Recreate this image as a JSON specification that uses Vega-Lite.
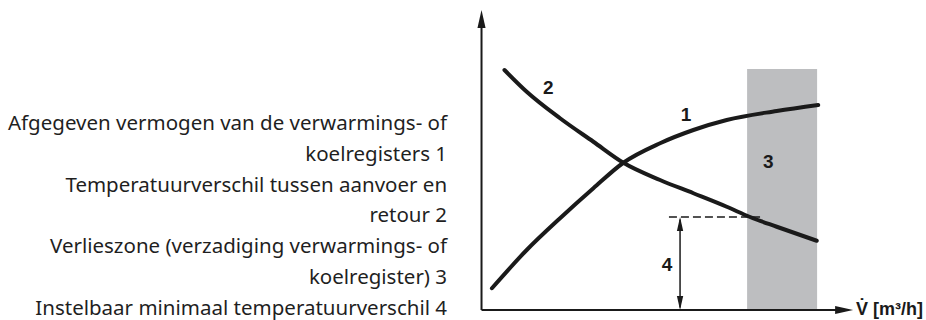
{
  "$schema": "https://vega.github.io/schema/vega-lite/v6.json",
  "width": 926,
  "height": 320,
  "padding": 0,
  "autosize": {"type": "none"},
  "background": "white",
  "config": {"view": {"stroke": null}},
  "datasets": {
    "curves": [
      {"curve": "1", "v": 0.28, "p": 0.87},
      {"curve": "1", "v": 1.22, "p": 2.4},
      {"curve": "1", "v": 2.12, "p": 3.67},
      {"curve": "1", "v": 3.02, "p": 4.87},
      {"curve": "1", "v": 3.83, "p": 5.89},
      {"curve": "1", "v": 4.82, "p": 6.67},
      {"curve": "1", "v": 5.72, "p": 7.2},
      {"curve": "1", "v": 6.62, "p": 7.6},
      {"curve": "1", "v": 7.97, "p": 7.96},
      {"curve": "1", "v": 9.09, "p": 8.2},
      {"curve": "2", "v": 0.62, "p": 9.6},
      {"curve": "2", "v": 1.22, "p": 8.73},
      {"curve": "2", "v": 2.12, "p": 7.67},
      {"curve": "2", "v": 3.02, "p": 6.73},
      {"curve": "2", "v": 3.83, "p": 5.89},
      {"curve": "2", "v": 4.82, "p": 5.2},
      {"curve": "2", "v": 5.72, "p": 4.67},
      {"curve": "2", "v": 6.62, "p": 4.13},
      {"curve": "2", "v": 7.25, "p": 3.72},
      {"curve": "2", "v": 7.97, "p": 3.33},
      {"curve": "2", "v": 9.05, "p": 2.77}
    ],
    "zone": [{"v": 7.17, "v2": 9.06, "p": 0, "p2": 9.64}],
    "axes": [
      {"v": 0, "p": 0, "v2": 9.6, "p2": 0},
      {"v": 0, "p": 0, "v2": 0, "p2": 11.5}
    ],
    "axisHeads": [
      {"v": 9.79, "p": 0, "dir": "right"},
      {"v": 0, "p": 11.64, "dir": "up"}
    ],
    "minDiff": [{"v": 5.36, "p": 0.1, "v2": 5.36, "p2": 3.62}],
    "minDiffHeads": [
      {"v": 5.36, "p": 3.44, "dir": "up"},
      {"v": 5.36, "p": 0.28, "dir": "down"}
    ],
    "guide": [{"v": 5.06, "p": 3.72, "v2": 7.52, "p2": 3.72}],
    "numbers": [
      {"v": 5.52, "p": 7.8, "label": "1"},
      {"v": 1.8, "p": 8.88, "label": "2"},
      {"v": 7.74, "p": 5.92, "label": "3"},
      {"v": 5.01, "p": 1.8, "label": "4"}
    ],
    "flowTitle": [{"v": 10.11, "p": 0, "label": "V̇ [m³/h]"}],
    "legend": [
      {"v": -0.93, "p": 7.2, "label": "Afgegeven vermogen van de verwarmings- of\nkoelregisters 1"},
      {"v": -0.93, "p": 4.74, "label": "Temperatuurverschil tussen aanvoer en\nretour 2"},
      {"v": -0.93, "p": 2.28, "label": "Verlieszone (verzadiging verwarmings- of\nkoelregister) 3"},
      {"v": -0.93, "p": -0.18, "label": "Instelbaar minimaal temperatuurverschil 4"}
    ]
  },
  "layer": [
    {
      "data": {"name": "zone"},
      "mark": {"type": "rect", "color": "#bdbec0"},
      "encoding": {
        "x": {"field": "v", "type": "quantitative", "scale": {"domain": [-13, 12], "nice": false, "zero": false}, "axis": null},
        "x2": {"field": "v2"},
        "y": {"field": "p", "type": "quantitative", "scale": {"domain": [-0.4, 12.4], "nice": false, "zero": false}, "axis": null},
        "y2": {"field": "p2"}
      }
    },
    {
      "data": {"name": "axes"},
      "mark": {"type": "rule", "color": "#1a1a1a", "strokeWidth": 2},
      "encoding": {
        "x": {"field": "v", "type": "quantitative", "scale": {"domain": [-13, 12], "nice": false, "zero": false}, "axis": null},
        "x2": {"field": "v2"},
        "y": {"field": "p", "type": "quantitative", "scale": {"domain": [-0.4, 12.4], "nice": false, "zero": false}, "axis": null},
        "y2": {"field": "p2"}
      }
    },
    {
      "data": {"name": "axisHeads"},
      "mark": {"type": "point", "filled": true, "color": "#1a1a1a", "opacity": 1, "size": 324, "strokeWidth": 0},
      "encoding": {
        "x": {"field": "v", "type": "quantitative", "scale": {"domain": [-13, 12], "nice": false, "zero": false}, "axis": null},
        "y": {"field": "p", "type": "quantitative", "scale": {"domain": [-0.4, 12.4], "nice": false, "zero": false}, "axis": null},
        "shape": {
          "field": "dir",
          "type": "nominal",
          "scale": {"domain": ["right", "up", "down"], "range": ["M-1,-0.45L1,0L-1,0.45Z", "M-0.45,1L0,-1L0.45,1Z", "M-0.45,-1L0,1L0.45,-1Z"]},
          "legend": null
        }
      }
    },
    {
      "data": {"name": "guide"},
      "mark": {"type": "rule", "color": "#1a1a1a", "strokeWidth": 1.5, "strokeDash": [8, 4]},
      "encoding": {
        "x": {"field": "v", "type": "quantitative", "scale": {"domain": [-13, 12], "nice": false, "zero": false}, "axis": null},
        "x2": {"field": "v2"},
        "y": {"field": "p", "type": "quantitative", "scale": {"domain": [-0.4, 12.4], "nice": false, "zero": false}, "axis": null},
        "y2": {"field": "p2"}
      }
    },
    {
      "data": {"name": "minDiff"},
      "mark": {"type": "rule", "color": "#1a1a1a", "strokeWidth": 1.5},
      "encoding": {
        "x": {"field": "v", "type": "quantitative", "scale": {"domain": [-13, 12], "nice": false, "zero": false}, "axis": null},
        "x2": {"field": "v2"},
        "y": {"field": "p", "type": "quantitative", "scale": {"domain": [-0.4, 12.4], "nice": false, "zero": false}, "axis": null},
        "y2": {"field": "p2"}
      }
    },
    {
      "data": {"name": "minDiffHeads"},
      "mark": {"type": "point", "filled": true, "color": "#1a1a1a", "opacity": 1, "size": 196, "strokeWidth": 0},
      "encoding": {
        "x": {"field": "v", "type": "quantitative", "scale": {"domain": [-13, 12], "nice": false, "zero": false}, "axis": null},
        "y": {"field": "p", "type": "quantitative", "scale": {"domain": [-0.4, 12.4], "nice": false, "zero": false}, "axis": null},
        "shape": {
          "field": "dir",
          "type": "nominal",
          "scale": {"domain": ["right", "up", "down"], "range": ["M-1,-0.45L1,0L-1,0.45Z", "M-0.45,1L0,-1L0.45,1Z", "M-0.45,-1L0,1L0.45,-1Z"]},
          "legend": null
        }
      }
    },
    {
      "data": {"name": "curves"},
      "mark": {"type": "line", "color": "#1a1a1a", "strokeWidth": 4, "strokeCap": "round", "interpolate": "monotone"},
      "encoding": {
        "x": {"field": "v", "type": "quantitative", "scale": {"domain": [-13, 12], "nice": false, "zero": false}, "axis": null},
        "y": {"field": "p", "type": "quantitative", "scale": {"domain": [-0.4, 12.4], "nice": false, "zero": false}, "axis": null},
        "detail": {"field": "curve", "type": "nominal"}
      }
    },
    {
      "data": {"name": "numbers"},
      "mark": {"type": "text", "font": "Liberation Sans", "fontWeight": "bold", "fontSize": 19, "color": "#1a1a1a", "align": "center", "baseline": "middle"},
      "encoding": {
        "x": {"field": "v", "type": "quantitative", "scale": {"domain": [-13, 12], "nice": false, "zero": false}, "axis": null},
        "y": {"field": "p", "type": "quantitative", "scale": {"domain": [-0.4, 12.4], "nice": false, "zero": false}, "axis": null},
        "text": {"field": "label"}
      }
    },
    {
      "data": {"name": "flowTitle"},
      "mark": {"type": "text", "font": "Liberation Sans", "fontWeight": "bold", "fontSize": 18, "color": "#1a1a1a", "align": "left", "baseline": "middle"},
      "encoding": {
        "x": {"field": "v", "type": "quantitative", "scale": {"domain": [-13, 12], "nice": false, "zero": false}, "axis": null},
        "y": {"field": "p", "type": "quantitative", "scale": {"domain": [-0.4, 12.4], "nice": false, "zero": false}, "axis": null},
        "text": {"field": "label"}
      }
    },
    {
      "data": {"name": "legend"},
      "mark": {"type": "text", "font": "Noto Sans", "fontSize": 20.5, "color": "#1f1f1f", "align": "right", "baseline": "alphabetic", "lineBreak": "\n", "lineHeight": 30.75},
      "encoding": {
        "x": {"field": "v", "type": "quantitative", "scale": {"domain": [-13, 12], "nice": false, "zero": false}, "axis": null},
        "y": {"field": "p", "type": "quantitative", "scale": {"domain": [-0.4, 12.4], "nice": false, "zero": false}, "axis": null},
        "text": {"field": "label"}
      }
    }
  ]
}
